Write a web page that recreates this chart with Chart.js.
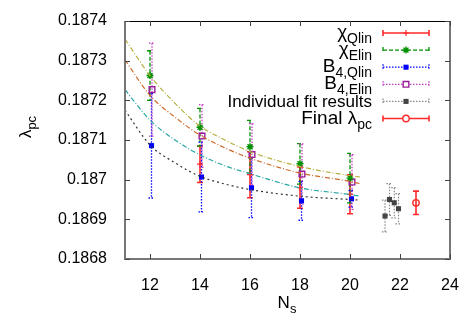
<!DOCTYPE html>
<html>
<head>
<meta charset="utf-8">
<script src="https://cdn.jsdelivr.net/npm/chart.js@4/dist/chart.umd.min.js"></script>
<style>
html, body { margin: 0; padding: 0; background: #fff; }
</style>
</head>
<body>
<canvas id="lambdaChart" width="475" height="332"></canvas>
<script>
// extrapolation points per observable
var nsChiQlin = [14, 16, 18, 20];
var chiQlin = [0.187039, 0.1870125, 0.186980, 0.186963];
var chiQlinErr = [0.000046, 0.000058, 0.000052, 0.000049];

var nsChiElin = [12, 14, 16, 18, 20];
var chiElin = [0.1872625, 0.187132, 0.187083, 0.18704, 0.187004];
var chiElinErr = [0.0000625, 0.0000475, 0.0000665, 0.000051, 0.0000625];

var nsB4Qlin = [12.06, 14.06, 16.06, 18.06, 20.06];
var b4Qlin = [0.1870858, 0.1870067, 0.1869792, 0.1869467, 0.1869517];
var b4QlinErr = [0.000132, 0.000088, 0.000075, 0.000049, 0.000021];

var nsB4Elin = [12.08, 14.08, 16.08, 18.08, 20.08];
var b4Elin = [0.187227, 0.18711, 0.1870633, 0.1870142, 0.186994];
var b4ElinErr = [0.000117, 0.000079, 0.000078, 0.000076, 0.000069];

var nsFits = [21.4, 21.58, 21.77, 21.94];
var fitResults = [0.1869083, 0.18695, 0.1869417, 0.1869267];
var fitErr = [0.00004, 0.00004, 0.000038, 0.000038];

var nsFinal = [22.64];
var finalLambda = [0.1869417];
var finalErr = [0.0000295];

// fitted curves
var curveNs = [11, 12, 13, 14, 15, 16, 18, 20, 20.4];
var curveChiElin = [0.1873542, 0.1872625, 0.1871925, 0.187135, 0.1871, 0.1870708, 0.1870333, 0.18701, 0.1870067];
var curveB4Elin = [0.1873017, 0.1872125, 0.1871575, 0.1871125, 0.18708, 0.1870542, 0.1870167, 0.1869958, 0.18699];
var curveChiQlin = [0.1872267, 0.18715, 0.1871, 0.1870625, 0.187035, 0.187015, 0.1869792, 0.1869625, 0.1869583];
var curveB4Qlin = [0.187175, 0.1870875, 0.1870425, 0.1870083, 0.186989, 0.186975, 0.1869583, 0.18695, 0.1869483];

var xTicks = [12, 14, 16, 18, 20, 22, 24];

var FONT = '"Liberation Sans", Arial, sans-serif';

function pts(xs, ys) {
    return xs.map(function(x, i) { return { x: x, y: ys[i] }; });
}

function curve(ys, color, dash) {
    return {
        type: 'line', data: pts(curveNs, ys), showLine: true,
        borderColor: color, borderWidth: 1.2, borderDash: dash,
        pointRadius: 0, cubicInterpolationMode: 'monotone', fill: false
    };
}

// vertical error bars with small caps
var errorBars = {
    id: 'errorBars',
    beforeDatasetsDraw: function(chart) {
        var ctx = chart.ctx, xs = chart.scales.x, ys = chart.scales.y;
        chart.data.datasets.forEach(function(ds) {
            if (!ds.errors) return;
            ctx.save();
            ctx.strokeStyle = ds.barColor;
            ctx.lineWidth = ds.barWidth || 1;
            ctx.setLineDash(ds.barDash || []);
            ds.data.forEach(function(p, j) {
                var px = xs.getPixelForValue(p.x);
                var top = ys.getPixelForValue(p.y + ds.errors[j]);
                var bot = ys.getPixelForValue(p.y - ds.errors[j]);
                ctx.beginPath();
                ctx.moveTo(px, top); ctx.lineTo(px, bot);
                ctx.moveTo(px - 3, top); ctx.lineTo(px + 3, top);
                ctx.moveTo(px - 3, bot); ctx.lineTo(px + 3, bot);
                ctx.stroke();
            });
            ctx.restore();
        });
    }
};

function subText(ctx, main, sub, x, y, align, mainSize, subSize) {
    ctx.font = mainSize + 'px ' + FONT;
    var w1 = ctx.measureText(main).width;
    ctx.font = subSize + 'px ' + FONT;
    var w2 = ctx.measureText(sub).width;
    var start = align === 'right' ? x - w1 - w2 : (align === 'center' ? x - (w1 + w2) / 2 : x);
    ctx.textAlign = 'left';
    ctx.textBaseline = 'alphabetic';
    ctx.font = mainSize + 'px ' + FONT;
    ctx.fillText(main, start, y);
    ctx.font = subSize + 'px ' + FONT;
    ctx.fillText(sub, start + w1, y + 5);
}

// gnuplot-like frame, inward ticks, titles and key
var frame = {
    id: 'frame',
    afterDraw: function(chart) {
        var ctx = chart.ctx, a = chart.chartArea, xs = chart.scales.x, ys = chart.scales.y;
        ctx.save();
        ctx.strokeStyle = '#000';
        ctx.lineWidth = 1;
        ctx.beginPath();
        ctx.moveTo(a.left, a.top + 0.5); ctx.lineTo(a.right, a.top + 0.5);
        ctx.stroke();
        ctx.strokeStyle = '#777';
        ctx.lineWidth = 2;
        ctx.beginPath();
        ctx.moveTo(a.left, a.top); ctx.lineTo(a.left, a.bottom);
        ctx.lineTo(a.right, a.bottom); ctx.lineTo(a.right, a.top);
        ctx.stroke();
        ctx.lineWidth = 1;
        ctx.strokeStyle = '#444';
        ctx.beginPath();
        xTicks.forEach(function(t) {
            var px = Math.round(xs.getPixelForValue(t)) + 0.5;
            ctx.moveTo(px, a.bottom); ctx.lineTo(px, a.bottom - 5);
            ctx.moveTo(px, a.top); ctx.lineTo(px, a.top + 5);
        });
        ys.ticks.forEach(function(t) {
            var py = Math.round(ys.getPixelForValue(t.value)) + 0.5;
            ctx.moveTo(a.left, py); ctx.lineTo(a.left + 5, py);
            ctx.moveTo(a.right, py); ctx.lineTo(a.right - 5, py);
        });
        ctx.stroke();

        ctx.fillStyle = '#000';
        subText(ctx, 'N', 's', 287, 308, 'center', 17, 13);
        ctx.save();
        ctx.translate(31, 127);
        ctx.rotate(-Math.PI / 2);
        subText(ctx, 'λ', 'pc', 0, 0, 'center', 17, 13);
        ctx.restore();

        var key = chart.options.plugins.frame.entries;
        key.forEach(function(e, i) {
            var cy = 33 + i * 17.1;
            ctx.fillStyle = '#000';
            if (e.sub) subText(ctx, e.main, e.sub, 372, cy + 5, 'right', 19, 14);
            else {
                ctx.font = '17px ' + FONT;
                ctx.textAlign = 'right';
                ctx.textBaseline = 'alphabetic';
                ctx.fillText(e.main, 372, cy + 6);
            }
            ctx.strokeStyle = e.color;
            ctx.lineWidth = e.width;
            ctx.setLineDash(e.dash);
            ctx.beginPath();
            ctx.moveTo(383, cy); ctx.lineTo(429, cy);
            ctx.moveTo(383, cy - 3); ctx.lineTo(383, cy + 3);
            ctx.moveTo(429, cy - 3); ctx.lineTo(429, cy + 3);
            ctx.stroke();
            ctx.setLineDash([]);
            ctx.fillStyle = e.fill;
            ctx.strokeStyle = e.pointColor;
            ctx.lineWidth = e.pointWidth;
            Chart.helpers.drawPoint(ctx, { pointStyle: e.style, radius: e.radius, rotation: 0, borderWidth: e.pointWidth }, 406, cy);
        });
        ctx.restore();
    }
};

var ctx = document.getElementById('lambdaChart').getContext('2d');

var lambdaChart = new Chart(ctx, {
    type: 'scatter',
    data: {
        datasets: [
            curve(curveChiElin, '#b8b040', [5, 2, 1, 2]),
            curve(curveB4Elin, '#cc6a2a', [5, 2, 1, 2]),
            curve(curveChiQlin, '#2aa5a5', [5, 2, 1, 2]),
            curve(curveB4Qlin, '#333333', [2, 3]),
            {
                data: pts(nsChiQlin, chiQlin), errors: chiQlinErr,
                barColor: '#ff2a2a', barWidth: 1.6, barDash: [],
                pointStyle: 'cross', pointRadius: 3, borderColor: '#ff2a2a', backgroundColor: '#ff2a2a', borderWidth: 1.2
            },
            {
                data: pts(nsChiElin, chiElin), errors: chiElinErr,
                barColor: '#009000', barWidth: 1.3, barDash: [4, 2],
                pointStyle: 'star', pointRadius: 3.5, borderColor: '#009000', backgroundColor: '#009000', borderWidth: 1.4
            },
            {
                data: pts(nsB4Qlin, b4Qlin), errors: b4QlinErr,
                barColor: '#0000ff', barWidth: 1.3, barDash: [1.5, 1.5],
                pointStyle: 'rect', pointRadius: 3.6, borderColor: '#0000ff', backgroundColor: '#0000ff', borderWidth: 0
            },
            {
                data: pts(nsB4Elin, b4Elin), errors: b4ElinErr,
                barColor: '#c040c0', barWidth: 1.3, barDash: [1.5, 1.5],
                pointStyle: 'rect', pointRadius: 4, borderColor: '#9a1c9a', backgroundColor: 'rgba(255,255,255,0)', borderWidth: 1.4
            },
            {
                data: pts(nsFits, fitResults), errors: fitErr,
                barColor: '#888888', barWidth: 1.2, barDash: [1.5, 1.5],
                pointStyle: 'rect', pointRadius: 3.6, borderColor: '#444444', backgroundColor: '#444444', borderWidth: 0
            },
            {
                data: pts(nsFinal, finalLambda), errors: finalErr,
                barColor: '#ff2a2a', barWidth: 1.6, barDash: [],
                pointStyle: 'circle', pointRadius: 3.2, borderColor: '#ff2a2a', backgroundColor: 'rgba(255,255,255,0)', borderWidth: 1.4
            }
        ]
    },
    options: {
        responsive: false,
        animation: false,
        devicePixelRatio: 1,
        layout: { padding: { top: 21, right: 25, left: 0, bottom: 0 } },
        scales: {
            x: {
                type: 'linear', min: 11, max: 24,
                afterBuildTicks: function(scale) {
                    scale.ticks = xTicks.map(function(v) { return { value: v }; });
                },
                afterFit: function(scale) { scale.height = 73; },
                grid: { display: false },
                border: { display: false },
                ticks: { color: '#000', padding: 9, font: { size: 16, family: FONT }, maxRotation: 0 }
            },
            y: {
                type: 'linear', min: 0.1868, max: 0.1874,
                afterFit: function(scale) { scale.width = 125; },
                grid: { display: false },
                border: { display: false },
                ticks: {
                    stepSize: 0.0001, color: '#000', padding: 10,
                    font: { size: 16, family: FONT },
                    callback: function(v) { return String(Number(v.toFixed(4))); }
                }
            }
        },
        plugins: {
            legend: { display: false },
            tooltip: { enabled: false },
            frame: {
                entries: [
                    { main: 'χ', sub: 'Qlin', color: '#ff2a2a', width: 1.6, dash: [], style: 'cross', radius: 3, fill: '#ff2a2a', pointColor: '#ff2a2a', pointWidth: 1.2 },
                    { main: 'χ', sub: 'Elin', color: '#009000', width: 1.3, dash: [4, 2], style: 'star', radius: 3.5, fill: '#009000', pointColor: '#009000', pointWidth: 1.4 },
                    { main: 'B', sub: '4,Qlin', color: '#0000ff', width: 1.3, dash: [1.5, 1.5], style: 'rect', radius: 3.6, fill: '#0000ff', pointColor: '#0000ff', pointWidth: 0 },
                    { main: 'B', sub: '4,Elin', color: '#c040c0', width: 1.3, dash: [1.5, 1.5], style: 'rect', radius: 4, fill: '#ffffff', pointColor: '#9a1c9a', pointWidth: 1.4 },
                    { main: 'Individual fit results', color: '#888888', width: 1.2, dash: [1.5, 1.5], style: 'rect', radius: 3.6, fill: '#444444', pointColor: '#444444', pointWidth: 0 },
                    { main: 'Final λ', sub: 'pc', color: '#ff2a2a', width: 1.6, dash: [], style: 'circle', radius: 3.2, fill: '#ffffff', pointColor: '#ff2a2a', pointWidth: 1.4 }
                ]
            }
        }
    },
    plugins: [errorBars, frame]
});
</script>
</body>
</html>
